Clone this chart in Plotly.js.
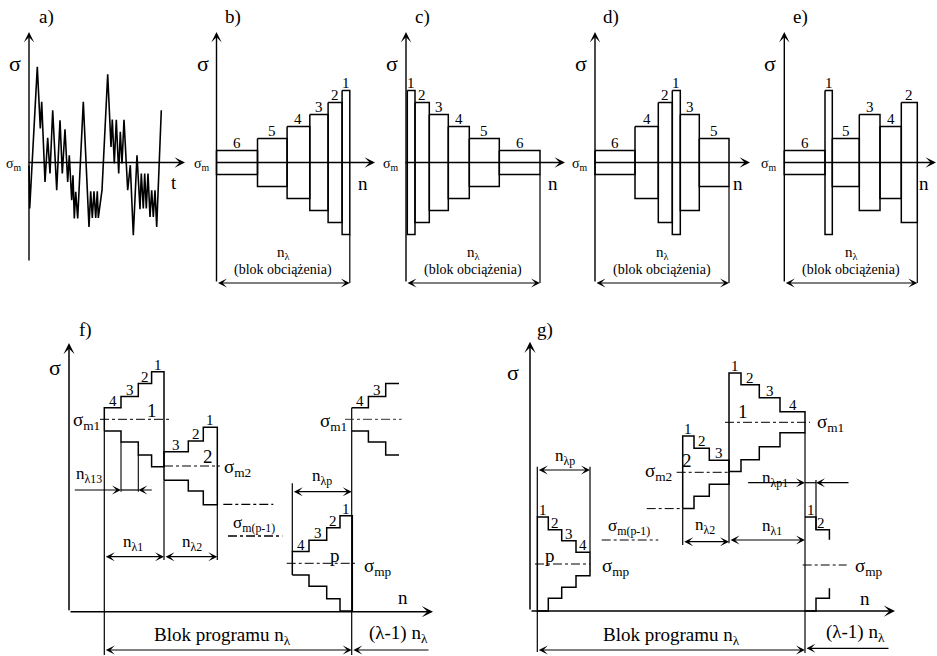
<!DOCTYPE html>
<html><head><meta charset="utf-8">
<script src="https://cdn.plot.ly/plotly-3.0.1.min.js"></script>
<style>
html,body{margin:0;padding:0;background:#fff;}
#chart svg text, #chart svg tspan { font-family: "Liberation Serif", "Times New Roman", serif !important; }
</style>
</head><body>
<div id="chart" style="width:937px;height:656px;"></div>
<script>
// ================= DATA =================
// a) irregular load history: time offset and stress offset from sigma_m (positive = up)
const histT = [0,0.7,8.3,11.3,12.7,16,18.7,21,23.7,27.7,31,33.3,36,38.7,40.3,42.7,44,45.3,46.7,48.7,54.3,60,61.7,63.3,65,66.7,68.3,69.3,73,78.7,82,83.3,85.3,87.3,89.7,91.3,93,95,98.7,101.3,104.3,108,111,112.3,114.3,115.7,117.3,119,121,122.7,124.3,126,127.7,132.3];
const histS = [-3,-46,95.6,34,60.6,-19.4,24.6,-11,52.3,-27.7,42.3,-11,33.3,-19.4,7.3,-37.7,-12.7,-56,-29.4,-56,60.6,-64.4,-28.7,-55.4,-28.7,-55.4,-28.7,-55.4,-27.7,88.3,15.6,43,-1,42.6,-11,30.6,-1,42.6,-27.7,-2.7,-72.7,7.3,-46.7,-11,-46,-11,-46,-11,-54.4,-27.7,-54.4,-27.7,-64.4,52.3];

// b)-e) block loading: half-range of stress level 1..6, and block order / cycle counts
const levelHalf = [72, 60, 48, 36, 24, 12];
const orderB = [6,5,4,3,2,1], widthB = [41,29.6,22.7,18.3,14,7.7];
const orderC = [1,2,3,4,5,6], widthC = [7.7,14.3,19,21,30,40.7];
const orderD = [6,4,2,1,3,5], widthD = [40,23.3,14,8,19,29.7];
const orderE = [6,1,5,3,4,2], widthE = [40.7,7.3,27,20.7,21.3,16];

// f) program blocks: step labels, step cycle counts, step half-ranges
const f1Labels = ['4','3','2','1'], f1W = [16.7,17.3,13.3,12.4], f1H = [11.6,22.8,35.8,47.5];
const f2Labels = ['3','2','1'],     f2W = [24.3,15,14],           f2H = [14.2,25,38.7];
const fpLabels = ['4','3','2','1'], fpW = [16.7,17.7,13.3,12.3], fpH = [11.7,23,35.5,47.6];
// g) program blocks (descending order of amplitude)
const gpLabels = ['1','2','3','4'], gpW = [11,13.4,14.3,14],     gpH = [47,34.2,23.3,11.7];
const g2Labels = ['1','2','3'],     g2W = [11.3,15.3,19.7],      g2H = [36.3,24,12];
const g1Labels = ['1','2','3','4'], g1W = [12,18.3,20.7,25],     g1H = [49.2,37.5,24.5,10.5];

// ================= DRAWING HELPERS =================
const FONT = 'Times New Roman';
const traces = [], ann = [];
function poly(xs, ys, w, dash, color) {
  traces.push({x: xs, y: ys, type: 'scatter', mode: 'lines', hoverinfo: 'skip', showlegend: false,
    line: {color: color || '#000', width: w || 1.5, dash: dash || 'solid'}});
}
function seg(x1, y1, x2, y2, w, dash, color) { poly([x1, x2], [y1, y2], w, dash, color); }
function txt(x, y, t, size, xa) {
  ann.push({x: x, y: y, xref: 'x', yref: 'y', text: t, showarrow: false,
    xanchor: xa || 'center', yanchor: 'middle', font: {family: FONT, size: size, color: '#000'}});
}
function arrow(xt, yt, xh, yh, both, w) {
  ann.push({x: xh, y: yh, ax: xt, ay: yt, xref: 'x', yref: 'y', axref: 'x', ayref: 'y',
    text: '', showarrow: true, arrowhead: 3, startarrowhead: 3, arrowsize: 1.25, startarrowsize: 1.25,
    arrowwidth: w || 1.2, arrowcolor: '#000', arrowside: both ? 'end+start' : 'end',
    standoff: 0, startstandoff: 0});
}
// closed stepped block (top staircase + mirrored bottom)
function stepBlock(x0, c, W, H, labels) {
  const xs = [x0, x0], ys = [c + H[0], c - H[0]];
  let x = x0;
  const lefts = [];
  for (let i = 0; i < W.length; i++) {
    lefts.push(x);
    x += W[i];
    xs.push(x); ys.push(c - H[i]);
    if (i < W.length - 1) { xs.push(x); ys.push(c - H[i + 1]); }
    if (labels) txt(lefts[i] + W[i] / 2, c - H[i] - 7, labels[i], 15);
  }
  xs.push(x); ys.push(c + H[W.length - 1]);
  for (let i = W.length - 1; i >= 0; i--) {
    xs.push(lefts[i]); ys.push(c + H[i]);
    if (i > 0) { xs.push(lefts[i]); ys.push(c + H[i - 1]); }
  }
  poly(xs, ys, 1.5);
  return {lefts: lefts, right: x};
}
// open stepped block (only first n steps, with optional riser to next)
function stepOpen(x0, c, W, H, n, riser, labels) {
  const tx = [x0], ty = [c - H[0]], bx = [x0], by = [c + H[0]];
  let x = x0;
  for (let i = 0; i < n; i++) {
    const l = x; x += W[i];
    tx.push(x); ty.push(c - H[i]); bx.push(x); by.push(c + H[i]);
    if (i < n - 1) { tx.push(x); ty.push(c - H[i + 1]); bx.push(x); by.push(c + H[i + 1]); }
    if (labels && i < n - 1) txt(l + W[i] / 2, c - H[i] - 7, labels[i], 15);
    if (labels && i === n - 1 && n === 2) txt(l + W[i] / 2 - 2, c - H[i] - 7, labels[i], 15);
  }
  if (riser) { tx.push(x); ty.push(c - H[n - 1] + riser); bx.push(x); by.push(c + H[n - 1] - riser); }
  poly(tx, ty, 1.5); poly(bx, by, 1.5);
}

// ================= a) =================
const aX = 29, aY = 162.5;
arrow(aX, 262, aX, 32, false, 1.4);
arrow(aX - 2, aY, 185, aY, false, 1.4);
poly(histT.map(t => aX + t), histS.map(s => aY - s), 1.6);
txt(46, 17, 'a)', 19);
txt(15, 63, 'σ', 22);
txt(14, 164, 'σ<sub>m</sub>', 14);
txt(174, 182, 't', 19);

// ================= b)-e) =================
const topY = 162.5, dimY = 283;
const panels = [
  {letter: 'b)', axX: 216.5, off: 0,   order: orderB, W: widthB, tip: 375},
  {letter: 'c)', axX: 406,   off: 1.3, order: orderC, W: widthC, tip: 565},
  {letter: 'd)', axX: 595,   off: 0,   order: orderD, W: widthD, tip: 750},
  {letter: 'e)', axX: 784.3, off: 0,   order: orderE, W: widthE, tip: 936}
];
panels.forEach(p => {
  arrow(p.axX, dimY, p.axX, 32, false, 1.4);
  let x = p.axX + p.off;
  p.order.forEach((lv, i) => {
    const h = levelHalf[lv - 1], w = p.W[i];
    poly([x, x + w, x + w, x, x], [topY - h, topY - h, topY + h, topY + h, topY - h], 1.5);
    txt(x + w / 2, topY - h - 8, String(lv), 15);
    x += w;
  });
  const lastH = levelHalf[p.order[p.order.length - 1] - 1];
  seg(x, topY + lastH, x, dimY, 1.2);
  arrow(p.axX - 2, topY, p.tip, topY, false, 1.4);
  arrow(p.axX, dimY, x, dimY, true, 1.2);
  const mid = (p.axX + x) / 2;
  txt(mid + 1, 253, 'n<sub>λ</sub>', 15);
  txt(mid, 270, '(blok obciążenia)', 14);
  txt(p.axX + 16, 17, p.letter, 19);
  txt(p.axX - 14, 63, 'σ', 22);
  txt(p.axX - 15, 164, 'σ<sub>m</sub>', 14);
  txt(p.tip - 12, 183, 'n', 19);
});

// ================= f) =================
const fAx = 69, fBase = 611.7;
arrow(fAx, fBase, fAx, 343, false, 1.5);
arrow(fAx, fBase, 433, fBase, false, 1.5);
txt(85, 330, 'f)', 19);
txt(55, 367, 'σ', 22);
txt(403, 597, 'n', 19);
// block 1
const fc1 = 419.3, fb1 = stepBlock(104.3, fc1, f1W, f1H, f1Labels);
seg(100, fc1, 170, fc1, 1, 'dashdot');
txt(86, 421, 'σ<sub>m1</sub>', 19);
txt(151.7, 410, '1', 19);
seg(104.3, fc1 + f1H[0], 104.3, 655, 1.2);
seg(fb1.lefts[1], fc1 + f1H[1], fb1.lefts[1], 491.7, 1.1);
seg(fb1.lefts[2], fc1 + f1H[2], fb1.lefts[2], 491.7, 1.1);
// block 2
const fc2 = 466, fb2 = stepBlock(fb1.right, fc2, f2W, f2H, f2Labels);
seg(fb1.right, fc2 + f2H[0], fb1.right, 560, 1.2);
seg(fb2.right, fc2 + f2H[2], fb2.right, 560, 1.2);
seg(fb1.right, fc2, 220, fc2, 1, 'dashdot');
txt(208.3, 456.7, '2', 19);
txt(222, 468, 'σ<sub>m2</sub>', 19, 'left');
// n_lambda13
arrow(73.3, 490, fb1.lefts[1], 490, false, 1.2);
arrow(153.3, 490, fb1.lefts[2], 490, false, 1.2);
seg(fb1.lefts[1], 490, fb1.lefts[2], 490, 1.2);
txt(89, 475, 'n<sub>λ13</sub>', 17);
// n_lambda1, n_lambda2
arrow(104.3, 556.7, fb1.right, 556.7, true, 1.2);
arrow(fb1.right, 556.7, fb2.right, 556.7, true, 1.2);
txt(133.3, 543.3, 'n<sub>λ1</sub>', 17);
txt(191.7, 543.3, 'n<sub>λ2</sub>', 17);
// sigma m(p-1)
seg(223.3, 504.3, 273.3, 504.3, 1.2, 'dashdot');
txt(231, 524, 'σ<sub>m(p-1)</sub>', 17, 'left');
seg(228, 536, 282.3, 536, 1.6, 'dashdot');
// block p
const fcp = 563.3, fbp = stepBlock(292.3, fcp, fpW, fpH, fpLabels);
seg(292.3, fcp - fpH[0], 292.3, 483.3, 1.2);
seg(286.7, fcp, 355, fcp, 1, 'dashdot');
txt(335, 555, 'p', 19);
txt(362, 566.7, 'σ<sub>mp</sub>', 19, 'left');
arrow(292.3, 491.7, 351.7, 491.7, true, 1.2);
txt(321.7, 476.7, 'n<sub>λp</sub>', 17);
// repeated block 1
stepOpen(351.7, fc1, f1W, f1H, 3, 0, f1Labels);
seg(351.7, fc1 - f1H[0], 351.7, 655, 1.2);
seg(345, fc1, 401.7, fc1, 1, 'dashdot', '#333');
txt(318, 421.7, 'σ<sub>m1</sub>', 19, 'left');
// program dimension
arrow(104.3, 650, 351.7, 650, true, 1.2);
txt(222, 636, 'Blok programu n<sub>λ</sub>', 19);
arrow(430, 650, 353.3, 650, false, 1.2);
txt(398, 634, '(λ-1) n<sub>λ</sub>', 19);

// ================= g) =================
const gAx = 530, gBase = 611;
arrow(gAx, gBase, gAx, 341.7, false, 1.5);
arrow(gAx, gBase, 895, gBase, false, 1.5);
txt(545, 330, 'g)', 19);
txt(513, 372, 'σ', 22);
txt(865, 598, 'n', 19);
// block p
const gcp = 564, gbp = stepBlock(537.3, gcp, gpW, gpH, gpLabels);
seg(537.3, gcp - gpH[0], 537.3, 466.7, 1.2);
seg(537.3, gcp + gpH[0], 537.3, 652, 1.2);
seg(gbp.right, gcp - gpH[3], gbp.right, 466.7, 1.2);
arrow(537.3, 470, gbp.right, 470, true, 1.2);
txt(565, 456.7, 'n<sub>λp</sub>', 17);
seg(535, gcp, gbp.right, gcp, 1, 'dashdot');
txt(550, 555, 'p', 19);
txt(600, 566.7, 'σ<sub>mp</sub>', 19, 'left');
txt(606, 526.7, 'σ<sub>m(p-1)</sub>', 17, 'left');
seg(601.7, 540, 658.3, 540, 1, 'dashdot');
// block 2
const gc2 = 472.3, gb2 = stepBlock(682.7, gc2, g2W, g2H, g2Labels);
seg(682.7, gc2 + g2H[0], 682.7, 545, 1.2);
seg(676.7, gc2, 728.3, gc2, 1, 'dashdot');
seg(646.7, gc2 + g2H[0], 681.7, gc2 + g2H[0], 1, 'dashdot');
txt(686.7, 460, '2', 19);
txt(674, 472.3, 'σ<sub>m2</sub>', 19, 'right');
arrow(682.7, 541.7, gb2.right, 541.7, true, 1.2);
txt(705, 526, 'n<sub>λ2</sub>', 17);
// block 1
const gc1 = 422.3, gb1 = stepBlock(gb2.right, gc1, g1W, g1H, g1Labels);
seg(gb2.right, gc1 + g1H[0], gb2.right, 543.3, 1.2);
seg(gb1.right, gc1 + g1H[3], gb1.right, 653, 1.2);
seg(725, gc1, 810, gc1, 1, 'dashdot');
txt(743.3, 411.7, '1', 19);
txt(815, 423.3, 'σ<sub>m1</sub>', 19, 'left');
arrow(gb2.right, 540, gb1.right, 540, true, 1.2);
txt(771.7, 526.7, 'n<sub>λ1</sub>', 17);
// n_lambda p1
const g1End = gb1.right, gRep1 = g1End + gpW[0];
arrow(746.7, 482.7, g1End, 482.7, false, 1.2);
arrow(850, 482.7, gRep1, 482.7, false, 1.2);
seg(g1End, 482.7, gRep1, 482.7, 1.2);
seg(gRep1, 480, gRep1, gcp - gpH[1], 1.2);
txt(775, 479, 'n<sub>λp1</sub>', 17);
// repeated block p (first two steps)
stepOpen(g1End, gcp, gpW, gpH, 2, 10, gpLabels);
seg(802.7, 565, 846.7, 565, 1, 'dashdot');
txt(853, 566.7, 'σ<sub>mp</sub>', 19, 'left');
// program dimension
arrow(537.3, 650, g1End, 650, true, 1.2);
txt(671, 636, 'Blok programu n<sub>λ</sub>', 19);
arrow(890, 648.3, g1End + 1.5, 648.3, false, 1.2);
txt(855, 633.3, '(λ-1) n<sub>λ</sub>', 19);

// ================= LAYOUT =================
const layout = {
  width: 937, height: 656, margin: {l: 0, r: 0, t: 0, b: 0},
  paper_bgcolor: '#fff', plot_bgcolor: '#fff', showlegend: false,
  font: {family: FONT, color: '#000'},
  xaxis: {range: [0, 937], visible: false},
  yaxis: {range: [656, 0], visible: false},
  annotations: ann
};
Plotly.newPlot('chart', traces, layout, {staticPlot: true});
</script>
</body></html>
